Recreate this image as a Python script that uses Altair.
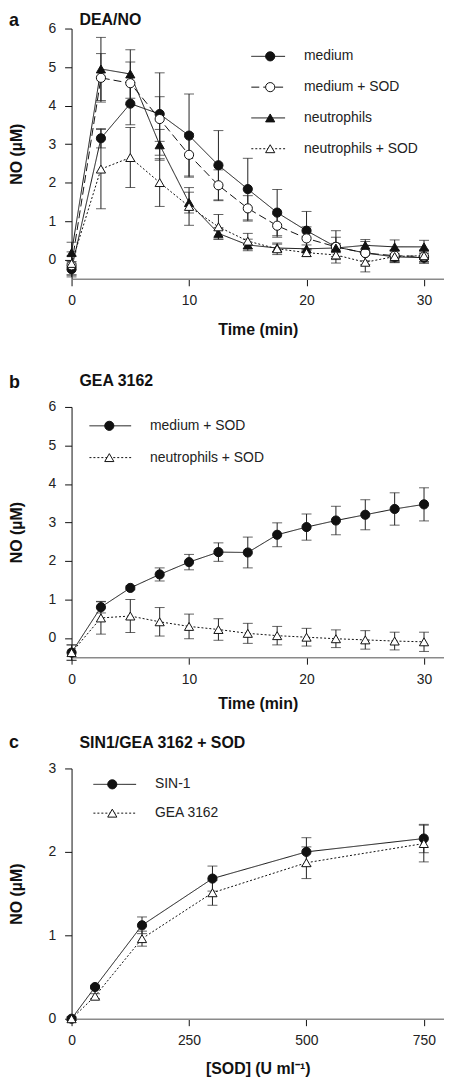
import altair as alt
import pandas as pd

FONT = "Liberation Sans"

# ---------------- Panel a : DEA/NO ----------------
time_a = [0, 2.5, 5, 7.5, 10, 12.5, 15, 17.5, 20, 22.5, 25, 27.5, 30]
a_medium = [-0.25, 3.15, 4.05, 3.78, 3.22, 2.45, 1.83, 1.22, 0.75, 0.33, 0.17, 0.07, 0.05]
a_medium_err = [0.2, 0.25, 0.55, 1.07, 1.08, 0.9, 0.8, 0.6, 0.5, 0.42, 0.3, 0.15, 0.15]
a_medsod = [-0.15, 4.72, 4.58, 3.65, 2.72, 1.93, 1.33, 0.88, 0.55, 0.33, 0.17, 0.1, 0.08]
a_medsod_err = [0.25, 0.63, 0.55, 0.58, 0.55, 0.4, 0.33, 0.3, 0.3, 0.25, 0.2, 0.15, 0.15]
a_neut = [0.18, 4.95, 4.82, 2.98, 1.48, 0.68, 0.38, 0.3, 0.28, 0.3, 0.37, 0.33, 0.33]
a_neut_err = [0.27, 0.82, 0.63, 0.4, 0.27, 0.15, 0.15, 0.1, 0.1, 0.12, 0.15, 0.18, 0.17]
a_neutsod = [-0.1, 2.35, 2.65, 2.0, 1.38, 0.85, 0.48, 0.28, 0.18, 0.12, -0.07, 0.08, 0.1]
a_neutsod_err = [0.3, 1.03, 0.78, 0.62, 0.49, 0.32, 0.2, 0.15, 0.1, 0.12, 0.25, 0.15, 0.15]
a_series = ["medium", "medium + SOD", "neutrophils", "neutrophils + SOD"]

# ---------------- Panel b : GEA 3162 ----------------
time_b = [0, 2.5, 5, 7.5, 10, 12.5, 15, 17.5, 20, 22.5, 25, 27.5, 30]
b_medsod = [-0.38, 0.8, 1.3, 1.65, 1.97, 2.23, 2.22, 2.68, 2.88, 3.05, 3.2, 3.35, 3.47]
b_medsod_err = [0.2, 0.15, 0.05, 0.17, 0.2, 0.24, 0.4, 0.31, 0.34, 0.37, 0.39, 0.42, 0.43]
b_neutsod = [-0.38, 0.52, 0.57, 0.42, 0.3, 0.22, 0.12, 0.06, 0.02, -0.02, -0.05, -0.08, -0.1]
b_neutsod_err = [0.2, 0.42, 0.43, 0.37, 0.32, 0.28, 0.26, 0.24, 0.23, 0.23, 0.24, 0.23, 0.25]
b_series = ["medium + SOD", "neutrophils + SOD"]

# ---------------- Panel c : SIN1/GEA 3162 + SOD ----------------
sod_c = [0, 50, 150, 300, 500, 750]
c_sin1 = [0, 0.38, 1.12, 1.68, 2.0, 2.16]
c_sin1_err = [0.02, 0.02, 0.1, 0.15, 0.17, 0.17]
c_gea = [0, 0.27, 0.96, 1.51, 1.87, 2.1]
c_gea_err = [0.02, 0.03, 0.09, 0.15, 0.19, 0.22]
c_series = ["SIN-1", "GEA 3162"]

# marker styles: (shape, fill, dash)
FILLED_CIRCLE_SOLID = ("circle", "#111111", [1, 0])
OPEN_CIRCLE_DASHED = ("circle", "white", [8, 4])
FILLED_TRI_SOLID = ("triangle-up", "#111111", [1, 0])
OPEN_TRI_DOTTED = ("triangle-up", "white", [2, 2])

a_styles = [FILLED_CIRCLE_SOLID, OPEN_CIRCLE_DASHED, FILLED_TRI_SOLID, OPEN_TRI_DOTTED]
b_styles = [FILLED_CIRCLE_SOLID, OPEN_TRI_DOTTED]
c_styles = [FILLED_CIRCLE_SOLID, OPEN_TRI_DOTTED]


def long_df(x, series_vals):
    rows = []
    for name, vals, errs in series_vals:
        for xi, v, e in zip(x, vals, errs):
            rows.append({"x": xi, "y": v, "lo": v - e, "hi": v + e, "s": name})
    return pd.DataFrame(rows)


def panel(df, series, styles, letter, title, x_title, x_dom, x_vals, y_dom, y_vals,
          title_dy, letter_dy, x_title_pad, legend_x, legend_y0, legend_dy, legend_line):
    xs = alt.Scale(domain=x_dom, nice=False, zero=False)
    ys = alt.Scale(domain=y_dom, nice=False, zero=False)
    xaxis = alt.Axis(values=x_vals, title=x_title, grid=False, tickSize=7,
                     tickColor="#111", domainColor="#8a8a8a", domainWidth=1.6,
                     labelFont=FONT, labelFontSize=14, labelColor="#222", labelPadding=8,
                     titleFont=FONT, titleFontSize=16, titleFontWeight="bold",
                     titleColor="#111", titlePadding=x_title_pad, labelFlush=False)
    yaxis = alt.Axis(values=y_vals, title="NO (µM)", grid=False, tickSize=7,
                     tickColor="#111", domainColor="#111", domainWidth=1,
                     labelFont=FONT, labelFontSize=14, labelColor="#222", labelPadding=9,
                     titleFont=FONT, titleFontSize=16, titleFontWeight="bold",
                     titleColor="#111", titlePadding=24)
    X = alt.X("x:Q", scale=xs, axis=xaxis)
    shapes = [st[0] for st in styles]
    fills = [st[1] for st in styles]
    dashes = [st[2] for st in styles]

    base = alt.Chart(df)
    err = base.mark_errorbar(ticks=True, size=10, thickness=1, color="#222").encode(
        x=X, y=alt.Y("lo:Q", scale=ys, axis=yaxis), y2="hi:Q", detail="s:N")
    line = base.mark_line(color="#111", strokeWidth=1).encode(
        x=X, y=alt.Y("y:Q", scale=ys, axis=yaxis),
        strokeDash=alt.StrokeDash("s:N", scale=alt.Scale(domain=series, range=dashes), legend=None),
        detail="s:N")
    pts = base.mark_point(size=85, stroke="#111", strokeWidth=1, opacity=1).encode(
        x=X, y=alt.Y("y:Q", scale=ys, axis=yaxis),
        shape=alt.Shape("s:N", scale=alt.Scale(domain=series, range=shapes), legend=None),
        fill=alt.Fill("s:N", scale=alt.Scale(domain=series, range=fills), legend=None))

    layers = [err, line, pts]
    # custom legend
    for i, (s, st) in enumerate(zip(series, styles)):
        yy = legend_y0 + i * legend_dy
        shp, fl, dsh = st
        d = alt.Chart(pd.DataFrame({"label": [s]}))
        layers.append(d.mark_rule(color="#111", strokeWidth=1, strokeDash=dsh).encode(
            x=alt.value(legend_line[0]), x2=alt.value(legend_line[1]), y=alt.value(yy)))
        layers.append(d.mark_point(shape=shp, fill=fl, stroke="#111", strokeWidth=1,
                                   size=85, opacity=1).encode(
            x=alt.value(legend_x), y=alt.value(yy)))
        layers.append(d.mark_text(align="left", baseline="middle", font=FONT, fontSize=14,
                                  color="#222").encode(
            text="label:N", x=alt.value(legend_line[1] + 19), y=alt.value(yy)))
    # panel titles
    t = alt.Chart(pd.DataFrame({"t": [title]}))
    layers.append(t.mark_text(align="left", baseline="top", font=FONT, fontSize=16,
                              fontWeight="bold", color="#111").encode(
        text="t:N", x=alt.value(8), y=alt.value(title_dy)))
    l = alt.Chart(pd.DataFrame({"t": [letter]}))
    layers.append(l.mark_text(align="left", baseline="top", font=FONT, fontSize=18,
                              fontWeight="bold", color="#111").encode(
        text="t:N", x=alt.value(-63), y=alt.value(letter_dy)))
    return alt.layer(*layers).properties(width=375, height=252).resolve_scale(
        shape="independent", fill="independent", strokeDash="independent")


df_a = long_df(time_a, [(s, v, e) for s, v, e in zip(
    a_series, [a_medium, a_medsod, a_neut, a_neutsod],
    [a_medium_err, a_medsod_err, a_neut_err, a_neutsod_err])])
df_b = long_df(time_b, [(s, v, e) for s, v, e in zip(
    b_series, [b_medsod, b_neutsod], [b_medsod_err, b_neutsod_err])])
df_c = long_df(sod_c, [(s, v, e) for s, v, e in zip(
    c_series, [c_sin1, c_gea], [c_sin1_err, c_gea_err])])

pa = panel(df_a, a_series, a_styles, "a", "DEA/NO", "Time (min)", [0, 31.7], [0, 10, 20, 30],
           [-0.5, 6], [0, 1, 2, 3, 4, 5, 6], -17, -17, 14, 200, 28, 31, (181, 215))
pb = panel(df_b, b_series, b_styles, "b", "GEA 3162", "Time (min)", [0, 31.7], [0, 10, 20, 30],
           [-0.5, 6], [0, 1, 2, 3, 4, 5, 6], -34, -33, 10, 38, 19, 32, (18, 60))
pc = panel(df_c, c_series, c_styles, "c", "SIN1/GEA 3162 + SOD", "[SOD] (U ml⁻¹)", [0, 793],
           [0, 250, 500, 750], [0, 3], [0, 1, 2, 3], -34, -35, 13, 41, 16, 29, (22, 65))

top = alt.vconcat(pa, pb, spacing=36).resolve_scale(
    shape="independent", fill="independent", strokeDash="independent")
chart = alt.vconcat(top, pc, spacing=22).resolve_scale(
    shape="independent", fill="independent", strokeDash="independent"
).properties(padding=0).configure_view(stroke=None)

chart.save("out.html", embed_options={"renderer": "svg", "actions": False})
